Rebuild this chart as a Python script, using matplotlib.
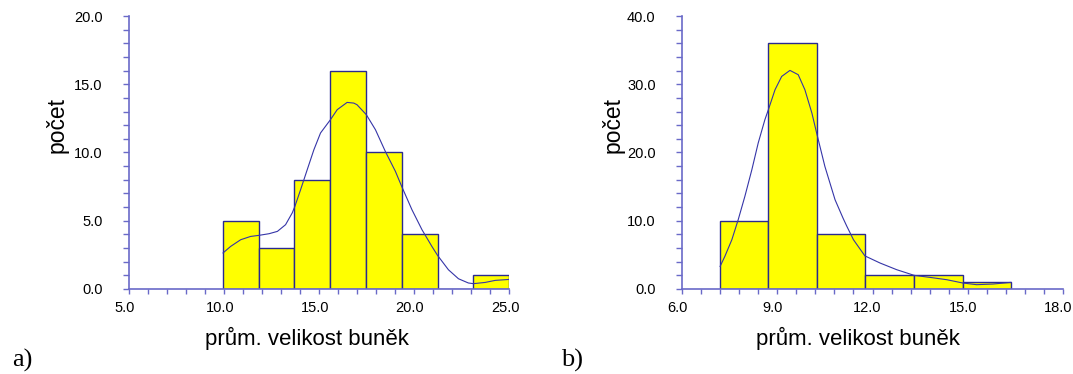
import numpy as np
import matplotlib
matplotlib.use("Agg")
import matplotlib.pyplot as plt
import matplotlib.transforms as mtrans
from matplotlib.ticker import MultipleLocator, FormatStrFormatter

# ---- data: panel a ----
a_edges = [9.95, 11.83, 13.71, 15.59, 17.48, 19.36, 21.24, 23.12, 25.0]
a_counts = [5, 3, 8, 16, 10, 4, 0, 1]
a_curve_x = [9.95, 10.35, 10.88, 11.40, 11.84, 12.37, 12.81, 13.24, 13.59, 13.73,
             14.03, 14.38, 14.73, 15.08, 15.60, 15.96, 16.48, 16.83, 17.0, 17.49,
             17.97, 18.49, 19.02, 19.35, 19.89, 20.42, 20.94, 21.24, 21.81, 22.34,
             22.86, 23.13, 23.74, 24.27, 25.0]
a_curve_y = [2.64, 3.12, 3.61, 3.85, 3.93, 4.05, 4.22, 4.71, 5.57, 6.05,
             7.27, 8.74, 10.2, 11.43, 12.40, 13.14, 13.67, 13.62, 13.50, 12.77,
             11.67, 10.08, 8.62, 7.52, 5.81, 4.34, 3.12, 2.46, 1.41, 0.75,
             0.44, 0.39, 0.48, 0.63, 0.70]
a_xticks = [5.0, 10.0, 15.0, 20.0, 25.0]
a_yticks = [0.0, 5.0, 10.0, 15.0, 20.0]

# ---- data: panel b ----
b_edges = [7.20, 8.72, 10.24, 11.76, 13.31, 14.84, 16.36]
b_counts = [10, 36, 8, 2, 2, 1]
b_curve_x = [7.20, 7.35, 7.57, 7.77, 7.98, 8.20, 8.40, 8.61, 8.72, 8.93,
             9.14, 9.40, 9.66, 9.87, 10.09, 10.24, 10.50, 10.82, 11.07, 11.19,
             11.40, 11.76, 12.24, 12.76, 13.31, 13.81, 14.34, 14.84, 15.28, 15.80,
             16.36]
b_curve_y = [3.31, 4.78, 7.22, 10.15, 13.57, 17.48, 21.39, 24.8, 26.27, 29.2,
             31.15, 32.03, 31.4, 29.2, 25.79, 22.86, 17.96, 13.08, 10.4, 9.2,
             7.22, 4.85, 3.80, 2.83, 2.0, 1.70, 1.36, 0.88, 0.63, 0.73,
             0.97]
b_xticks = [6.0, 9.0, 12.0, 15.0, 18.0]
b_yticks = [0.0, 10.0, 20.0, 30.0, 40.0]

xlabel = "prům. velikost buněk"
ylabel = "počet"

SPINE = "#6a6ac8"
EDGE = "#2a2a90"
CURVE = "#3535a8"

fig = plt.figure(figsize=(10.73, 3.74), dpi=100)
plt.rcParams['font.family'] = ['Liberation Sans', 'DejaVu Sans']


def panel(rect, edges, counts, cx, cy, xticks, yticks, xminor, yminor,
          letter, letter_x, xlab_x, ylab_x, xshift):
    ax = fig.add_axes(rect)
    widths = np.diff(edges)
    ax.bar(edges[:-1], counts, width=widths, align='edge', color='#ffff00',
           edgecolor=EDGE, linewidth=1.0, zorder=2)
    ax.plot(cx, cy, color=CURVE, linewidth=0.8, zorder=3)
    ax.set_xlim(xticks[0], xticks[-1])
    ax.set_ylim(yticks[0], yticks[-1])
    ax.set_xticks(xticks)
    ax.set_yticks(yticks)
    ax.xaxis.set_major_formatter(FormatStrFormatter('%.1f'))
    ax.yaxis.set_major_formatter(FormatStrFormatter('%.1f'))
    ax.xaxis.set_minor_locator(MultipleLocator(xminor))
    ax.yaxis.set_minor_locator(MultipleLocator(yminor))
    for s in ['top', 'right']:
        ax.spines[s].set_visible(False)
    for s in ['left', 'bottom']:
        ax.spines[s].set_color(SPINE)
        ax.spines[s].set_linewidth(1.2)
        ax.spines[s].set_zorder(4)
    ax.tick_params(which='both', color=SPINE, width=1.0, labelsize=10.5, colors='black')
    ax.tick_params(which='both', axis='x', length=3.5, pad=5, color=SPINE)
    ax.tick_params(which='both', axis='y', length=4, pad=15, color=SPINE)
    off = mtrans.ScaledTranslation(xshift / 100.0, 0, fig.dpi_scale_trans)
    for lab in ax.get_xticklabels():
        lab.set_transform(lab.get_transform() + off)
    ax.patch.set_visible(False)
    fig.text(xlab_x, 0.095, xlabel, fontsize=16, ha='center', va='center')
    fig.text(ylab_x, 0.665, ylabel, fontsize=16.5, ha='center', va='center', rotation=90)
    fig.text(letter_x, 0.035, letter, fontsize=19, ha='left', va='center',
             family=['Liberation Serif', 'DejaVu Serif'])
    return ax


panel([0.1202, 0.2273, 0.3542, 0.7299], a_edges, a_counts, a_curve_x, a_curve_y,
      a_xticks, a_yticks, 1.0, 1.0, "a)", 0.0109, 0.2857, 0.0531, -4)
panel([0.6356, 0.2273, 0.3551, 0.7299], b_edges, b_counts, b_curve_x, b_curve_y,
      b_xticks, b_yticks, 0.6, 2.0, "b)", 0.5228, 0.7993, 0.5713, -5)

fig.savefig("out.png", dpi=100)
